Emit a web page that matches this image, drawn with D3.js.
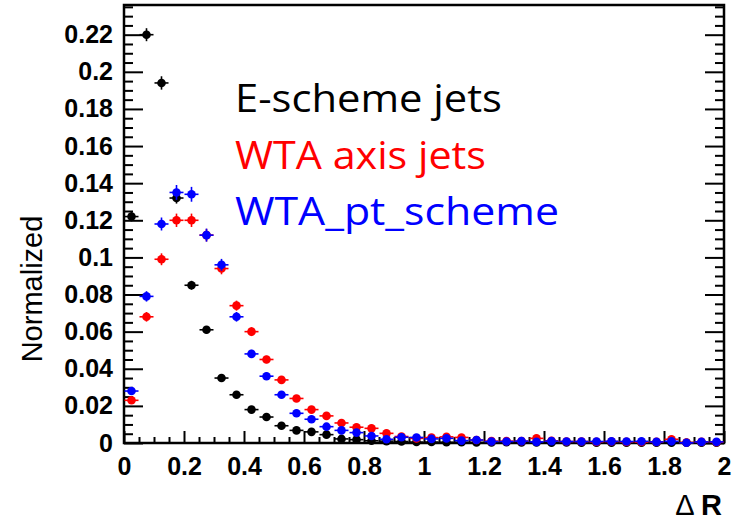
<!DOCTYPE html>
<html>
<head>
<meta charset="utf-8">
<script src="https://cdn.jsdelivr.net/npm/d3@7"></script>
<style>
  body { margin: 0; background: #fff; }
  svg { display: block; }
</style>
</head>
<body>
<script>
// bins of 0.05 in Delta R, 0..2
var binCenters = d3.range(40).map(function(i){ return 0.025 + 0.05 * i; });

var eScheme = [0.122, 0.220, 0.194, 0.132, 0.085, 0.061, 0.035, 0.026, 0.018, 0.014,
               0.0093, 0.0068, 0.0060, 0.0045, 0.0022, 0.0018, 0.0012, 0.0010, 0.0008, 0.0005,
               0.0005, 0.0004, 0.0004, 0.0003, 0.0003, 0.0004, 0.0003, 0.0003, 0.0002, 0.0003,
               0.0002, 0.0002, 0.0002, 0.0001, 0.0002, 0.0001, 0.0001, 0.0001, 0.0001, 0.0001];
var wtaAxis = [0.023, 0.068, 0.099, 0.120, 0.120, 0.112, 0.094, 0.074, 0.060, 0.045,
               0.034, 0.024, 0.018, 0.0146, 0.0108, 0.0085, 0.0079, 0.0052, 0.0035, 0.0025,
               0.0029, 0.0033, 0.0030, 0.0016, 0.0010, 0.0010, 0.0010, 0.0025, 0.0012, 0.0008,
               0.0008, 0.0006, 0.0008, 0.0006, 0.0005, 0.0006, 0.0020, 0.0003, 0.0006, 0.0004];
var wtaPt   = [0.028, 0.079, 0.118, 0.135, 0.134, 0.112, 0.096, 0.068, 0.048, 0.036,
               0.026, 0.016, 0.0128, 0.0088, 0.0068, 0.0056, 0.0038, 0.0020, 0.0031, 0.0030,
               0.0022, 0.0025, 0.0013, 0.0016, 0.0008, 0.0008, 0.0010, 0.0006, 0.0010, 0.0008,
               0.0008, 0.0008, 0.0009, 0.0008, 0.0009, 0.0006, 0.0009, 0.0001, 0.0006, 0.0006];
// statistical errors (only the first bins are bigger than the marker)
var eSchemeErr = [0.0026, 0.0035, 0.0036, 0.0030, 0.0024, 0.0020, 0.0015, 0.0013, 0.0011, 0.0010];
var wtaAxisErr = [0.0014, 0.0026, 0.0032, 0.0036, 0.0036, 0.0034, 0.0031, 0.0027, 0.0024, 0.0020];
var wtaPtErr   = [0.0016, 0.0028, 0.0035, 0.0040, 0.0040, 0.0035, 0.0032, 0.0026, 0.0022, 0.0019];

var seriesNames = ["E-scheme jets", "WTA axis jets", "WTA_pt_scheme"];
var seriesColors = ["#000000", "#ff0000", "#0000ff"];

var xTicks = [0, 0.2, 0.4, 0.6, 0.8, 1, 1.2, 1.4, 1.6, 1.8, 2];
var xTickLabels = ["0", "0.2", "0.4", "0.6", "0.8", "1", "1.2", "1.4", "1.6", "1.8", "2"];
var yTicks = [0, 0.02, 0.04, 0.06, 0.08, 0.1, 0.12, 0.14, 0.16, 0.18, 0.2, 0.22];
var yTickLabels = ["0", "0.02", "0.04", "0.06", "0.08", "0.1", "0.12", "0.14", "0.16", "0.18", "0.2", "0.22"];

var W = 740, H = 523;
var margin = {top: 5, right: 16, bottom: 80, left: 124};

var svg = d3.select("body").append("svg")
  .attr("width", W)
  .attr("height", H);

var x = d3.scaleLinear().domain([0, 2]).range([margin.left, W - margin.right]);
var y = d3.scaleLinear().domain([0, 0.236]).range([H - margin.bottom, margin.top]);

var tickFont = "'Liberation Sans', Arial, sans-serif";

// minor ticks
var yMinor = d3.range(0, 0.2361, 0.005).filter(function(v){ return Math.abs(v / 0.02 - Math.round(v / 0.02)) > 1e-6; });
var xMinor = d3.range(0, 2.0001, 0.05).filter(function(v){ return Math.abs(v / 0.2 - Math.round(v / 0.2)) > 1e-6; });

function styleAxis(g) {
  g.select(".domain").remove();
  g.selectAll(".tick line").attr("stroke", "#000").attr("stroke-width", 2);
  g.selectAll(".tick text")
    .attr("font-family", tickFont)
    .attr("font-weight", "bold")
    .attr("font-size", 25)
    .attr("fill", "#000");
}

// left axis
svg.append("g")
  .attr("transform", "translate(" + x(0) + ",0)")
  .call(d3.axisLeft(y).tickValues(yTicks).tickSize(-19).tickPadding(11)
    .tickFormat(function(d, i){ return yTickLabels[i]; }))
  .call(styleAxis);
svg.append("g")
  .attr("transform", "translate(" + x(0) + ",0)")
  .call(d3.axisLeft(y).tickValues(yMinor).tickSize(-9).tickFormat(""))
  .call(styleAxis);

// right axis
svg.append("g")
  .attr("transform", "translate(" + x(2) + ",0)")
  .call(d3.axisRight(y).tickValues(yTicks).tickSize(-19).tickFormat(""))
  .call(styleAxis);
svg.append("g")
  .attr("transform", "translate(" + x(2) + ",0)")
  .call(d3.axisRight(y).tickValues(yMinor).tickSize(-9).tickFormat(""))
  .call(styleAxis);

// bottom axis
svg.append("g")
  .attr("transform", "translate(0," + y(0) + ")")
  .call(d3.axisBottom(x).tickValues(xTicks).tickSize(-12).tickPadding(14)
    .tickFormat(function(d, i){ return xTickLabels[i]; }))
  .call(styleAxis);
svg.append("g")
  .attr("transform", "translate(0," + y(0) + ")")
  .call(d3.axisBottom(x).tickValues(xMinor).tickSize(-6).tickFormat(""))
  .call(styleAxis);

// frame
svg.append("rect")
  .attr("x", x(0)).attr("y", y(0.236))
  .attr("width", x(2) - x(0)).attr("height", y(0) - y(0.236))
  .attr("fill", "none").attr("stroke", "#000").attr("stroke-width", 2.5);

// data points
var allSeries = [eScheme, wtaAxis, wtaPt];
var allErr = [eSchemeErr, wtaAxisErr, wtaPtErr];
var halfBin = 0.025;

allSeries.forEach(function(vals, s) {
  var col = seriesColors[s];
  var pts = vals.map(function(v, i){ return {x: binCenters[i], y: v, e: allErr[s][i] || 0}; });
  var g = svg.append("g");
  g.selectAll("line.h").data(pts).enter().append("line")
    .attr("class", "h")
    .attr("x1", function(d){ return x(d.x - halfBin) + 0.5; })
    .attr("x2", function(d){ return x(d.x + halfBin) - 0.5; })
    .attr("y1", function(d){ return y(d.y); })
    .attr("y2", function(d){ return y(d.y); })
    .attr("stroke", col).attr("stroke-width", 1.6);
  g.selectAll("line.v").data(pts).enter().append("line")
    .attr("class", "v")
    .attr("x1", function(d){ return x(d.x); })
    .attr("x2", function(d){ return x(d.x); })
    .attr("y1", function(d){ return y(d.y - d.e); })
    .attr("y2", function(d){ return y(d.y + d.e); })
    .attr("stroke", col).attr("stroke-width", 1.6);
  g.selectAll("circle").data(pts).enter().append("circle")
    .attr("cx", function(d){ return x(d.x); })
    .attr("cy", function(d){ return y(d.y); })
    .attr("r", 4.3)
    .attr("fill", col);
});

// legend text (widths matched to the reference)
var legendFont = "'Open Sans', Lato, sans-serif";
var legendWidths = [267, 251, 324];
svg.selectAll("text.leg").data(seriesNames).enter().append("text")
  .attr("class", "leg")
  .attr("x", 235)
  .attr("y", function(d, i){ return 112 + i * 56.5; })
  .attr("font-family", legendFont)
  .attr("font-size", 38)
  .attr("textLength", function(d, i){ return legendWidths[i]; })
  .attr("lengthAdjust", "spacingAndGlyphs")
  .attr("fill", function(d, i){ return seriesColors[i]; })
  .text(function(d){ return d; });

// y title
svg.append("text")
  .attr("transform", "translate(42,289) rotate(-90)")
  .attr("text-anchor", "middle")
  .attr("font-family", "'Liberation Sans', Arial, sans-serif")
  .attr("font-size", 29)
  .attr("fill", "#000")
  .text("Normalized");

// x title
var xt = svg.append("text")
  .attr("x", 722).attr("y", 515)
  .attr("text-anchor", "end")
  .attr("font-family", "'Liberation Sans', Arial, sans-serif")
  .attr("font-size", 29)
  .attr("fill", "#000");
xt.append("tspan").text("\u0394 ");
xt.append("tspan").attr("font-weight", "bold").text("R");
</script>
</body>
</html>
